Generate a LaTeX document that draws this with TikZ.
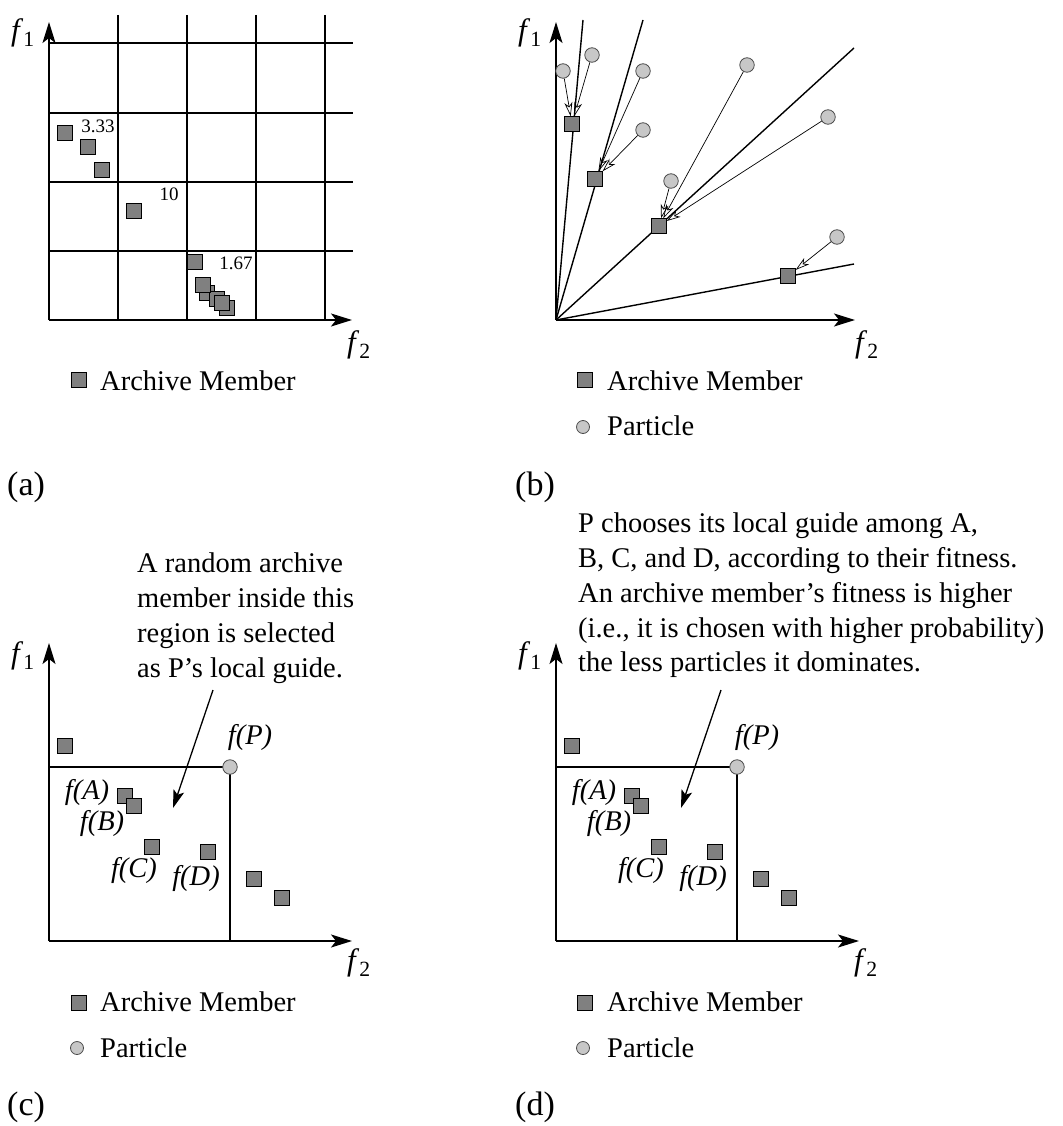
\documentclass[tikz,border=0pt]{standalone}
\usepackage{fontspec}
\setmainfont{Liberation Serif}
\usetikzlibrary{arrows.meta}
\definecolor{memberfill}{gray}{0.5}
\definecolor{particlefill}{gray}{0.78}

\begin{document}
\begin{tikzpicture}[x=1pt, y=-1pt,
  every node/.style={font=\fontsize{28.5}{34.7}\selectfont},
  member/.style={draw, line width=0.8pt, fill=memberfill, minimum size=14.5pt, inner sep=0pt},
  particle/.style={circle, draw=black!70, line width=0.8pt, fill=particlefill, minimum size=14.5pt, inner sep=0pt},
  axis/.style={line width=1.6pt, -{Stealth[length=21pt, width=13pt, inset=5pt]}},
  gridline/.style={line width=1.4pt},
  move/.style={line width=0.7pt, -{Stealth[open, length=14pt, width=8pt, inset=4pt]}},
  pointer/.style={line width=1.3pt, -{Stealth[length=18pt, width=11pt, inset=4pt]}},
  small/.style={font=\fontsize{19}{22}\selectfont},
  axislabel/.style={font=\fontsize{31}{36}\selectfont},
  tag/.style={anchor=base west, inner sep=0pt, font=\fontsize{34}{40}\selectfont},
  keytext/.style={anchor=base west, inner sep=0pt}]
  \useasboundingbox (0,0) rectangle (1062,1126);

  % (a) grid of hypercubes
  \draw[gridline] (118,15) -- (118,320);
  \draw[gridline] (187,15) -- (187,320);
  \draw[gridline] (256,15) -- (256,320);
  \draw[gridline] (325,15) -- (325,320);
  \draw[gridline] (49,43) -- (353,43);
  \draw[gridline] (49,113) -- (353,113);
  \draw[gridline] (49,182) -- (353,182);
  \draw[gridline] (49,251) -- (353,251);
  \coordinate (a-o) at (49,320);
  \draw[axis] (a-o) -- (49,22);
  \draw[axis] (a-o) -- (352,320);
  \node[axislabel] (a-f1) at (23,33) {\textit{f}\textsubscript{1}};
  \node[axislabel] (a-f2) at (359,345) {\textit{f}\textsubscript{2}};
  % archive members in the cells
  \node[member] (a1) at (65,133) {};
  \node[member] (a2) at (88,147) {};
  \node[member] (a3) at (102,170) {};
  \node[member] (a4) at (134,211) {};
  \node[member] (a5) at (195,262) {};
  \node[member] (a6) at (207,293) {};
  \node[member] (a7) at (217,299) {};
  \node[member] (a8) at (227,308) {};
  \node[member] (a9) at (203,285) {};
  \node[member] (a10) at (222,303) {};
  % cell fitness
  \node[small] (a-n1) at (98,126) {3.33};
  \node[small] (a-n2) at (169,194) {10};
  \node[small] (a-n3) at (236,263) {1.67};
  % legend
  \node[member] (a-key) at (79,380) {};
  \node[keytext] (a-keytext) at (100,390) {Archive Member};
  \node[tag] (a-tag) at (7,495) {(a)};

  % (b) sigma method
  \coordinate (b-o) at (556,320);
  \draw[gridline] (b-o) -- (583,20);
  \draw[gridline] (b-o) -- (643,20);
  \draw[gridline] (b-o) -- (854,48);
  \draw[gridline] (b-o) -- (854,264);
  \draw[axis] (b-o) -- (556,22);
  \draw[axis] (b-o) -- (855,320);
  \node[axislabel] (b-f1) at (530,33) {\textit{f}\textsubscript{1}};
  \node[axislabel] (b-f2) at (867,345) {\textit{f}\textsubscript{2}};
  \node[member] (b-s1) at (572,124) {};
  \node[member] (b-s2) at (595,179) {};
  \node[member] (b-s3) at (659,226) {};
  \node[member] (b-s4) at (788,276) {};
  \node[particle] (b-p1) at (563,71) {};
  \node[particle] (b-p2) at (592,55) {};
  \node[particle] (b-p3) at (643,71) {};
  \node[particle] (b-p4) at (643,130) {};
  \node[particle] (b-p5) at (747,65) {};
  \node[particle] (b-p6) at (828,117) {};
  \node[particle] (b-p7) at (671,181) {};
  \node[particle] (b-p8) at (837,237) {};
  % each particle moves towards its guide
  \draw[move] (b-p1) -- (b-s1);
  \draw[move] (b-p2) -- (b-s1);
  \draw[move] (b-p3) -- (b-s2);
  \draw[move] (b-p4) -- (b-s2);
  \draw[move] (b-p5) -- (b-s3);
  \draw[move] (b-p6) -- (b-s3);
  \draw[move] (b-p7) -- (b-s3);
  \draw[move] (b-p8) -- (b-s4);
  % legend
  \node[member] (b-key1) at (585,380) {};
  \node[keytext] (b-keytext1) at (607,390) {Archive Member};
  \node[particle, minimum size=13pt] (b-key2) at (583,427) {};
  \node[keytext] (b-keytext2) at (607,435) {Particle};
  \node[tag] (b-tag) at (515,495) {(b)};

  % (c) random guide in dominating region
  \coordinate (c-o) at (49,941);
  \draw[axis] (c-o) -- (49,643);
  \draw[axis] (c-o) -- (352,941);
  \node[axislabel] (c-f1) at (23,656) {\textit{f}\textsubscript{1}};
  \node[axislabel] (c-f2) at (359,963) {\textit{f}\textsubscript{2}};
  \draw[line width=1.3pt] (49,767) -- (230,767) -- (230,941);
  \node[particle] (c-P) at (230,767) {};
  \node[member] (c-m1) at (65,746) {};
  \node[member] (c-A) at (125,796) {};
  \node[member] (c-B) at (134,806) {};
  \node[member] (c-C) at (152,847) {};
  \node[member] (c-D) at (208,852) {};
  \node[member] (c-m2) at (254,879) {};
  \node[member] (c-m3) at (282,898) {};
  \node (c-fP) at (250,737) {\textit{f(P)}};
  \node (c-fA) at (87,792) {\textit{f(A)}};
  \node (c-fB) at (102,823) {\textit{f(B)}};
  \node (c-fC) at (134,870) {\textit{f(C)}};
  \node (c-fD) at (196,878) {\textit{f(D)}};
  \node[anchor=north west, align=left, inner sep=0pt] (c-note) at (137,553)
    {A random archive\\member inside this\\region is selected\\as P's local guide.};
  \coordinate (c-from) at (213,690);
  \coordinate (c-to) at (173,808);
  \draw[pointer] (c-from) -- (c-to);
  % legend
  \node[member] (c-key1) at (79,1003) {};
  \node[keytext] (c-keytext1) at (100,1011) {Archive Member};
  \node[particle, minimum size=13pt] (c-key2) at (77,1048) {};
  \node[keytext] (c-keytext2) at (100,1057) {Particle};
  \node[tag] (c-tag) at (7,1115) {(c)};

  % (d) guide chosen by fitness
  \coordinate (d-o) at (556,941);
  \draw[axis] (d-o) -- (556,643);
  \draw[axis] (d-o) -- (859,941);
  \node[axislabel] (d-f1) at (530,656) {\textit{f}\textsubscript{1}};
  \node[axislabel] (d-f2) at (866,963) {\textit{f}\textsubscript{2}};
  \draw[line width=1.3pt] (556,767) -- (737,767) -- (737,941);
  \node[particle] (d-P) at (737,767) {};
  \node[member] (d-m1) at (572,746) {};
  \node[member] (d-A) at (632,796) {};
  \node[member] (d-B) at (641,806) {};
  \node[member] (d-C) at (659,847) {};
  \node[member] (d-D) at (715,852) {};
  \node[member] (d-m2) at (761,879) {};
  \node[member] (d-m3) at (789,898) {};
  \node (d-fP) at (757,737) {\textit{f(P)}};
  \node (d-fA) at (594,792) {\textit{f(A)}};
  \node (d-fB) at (609,823) {\textit{f(B)}};
  \node (d-fC) at (641,870) {\textit{f(C)}};
  \node (d-fD) at (703,878) {\textit{f(D)}};
  \node[anchor=north west, align=left, inner sep=0pt] (d-note) at (578,513)
    {P chooses its local guide among A,\\B, C, and D, according to their fitness.\\An archive member's fitness is higher\\(i.e., it is chosen with higher probability)\\the less particles it dominates.};
  \coordinate (d-from) at (721,690);
  \coordinate (d-to) at (681,808);
  \draw[pointer] (d-from) -- (d-to);
  % legend
  \node[member] (d-key1) at (585,1003) {};
  \node[keytext] (d-keytext1) at (607,1011) {Archive Member};
  \node[particle, minimum size=13pt] (d-key2) at (583,1048) {};
  \node[keytext] (d-keytext2) at (607,1057) {Particle};
  \node[tag] (d-tag) at (515,1115) {(d)};
\end{tikzpicture}
\end{document}
